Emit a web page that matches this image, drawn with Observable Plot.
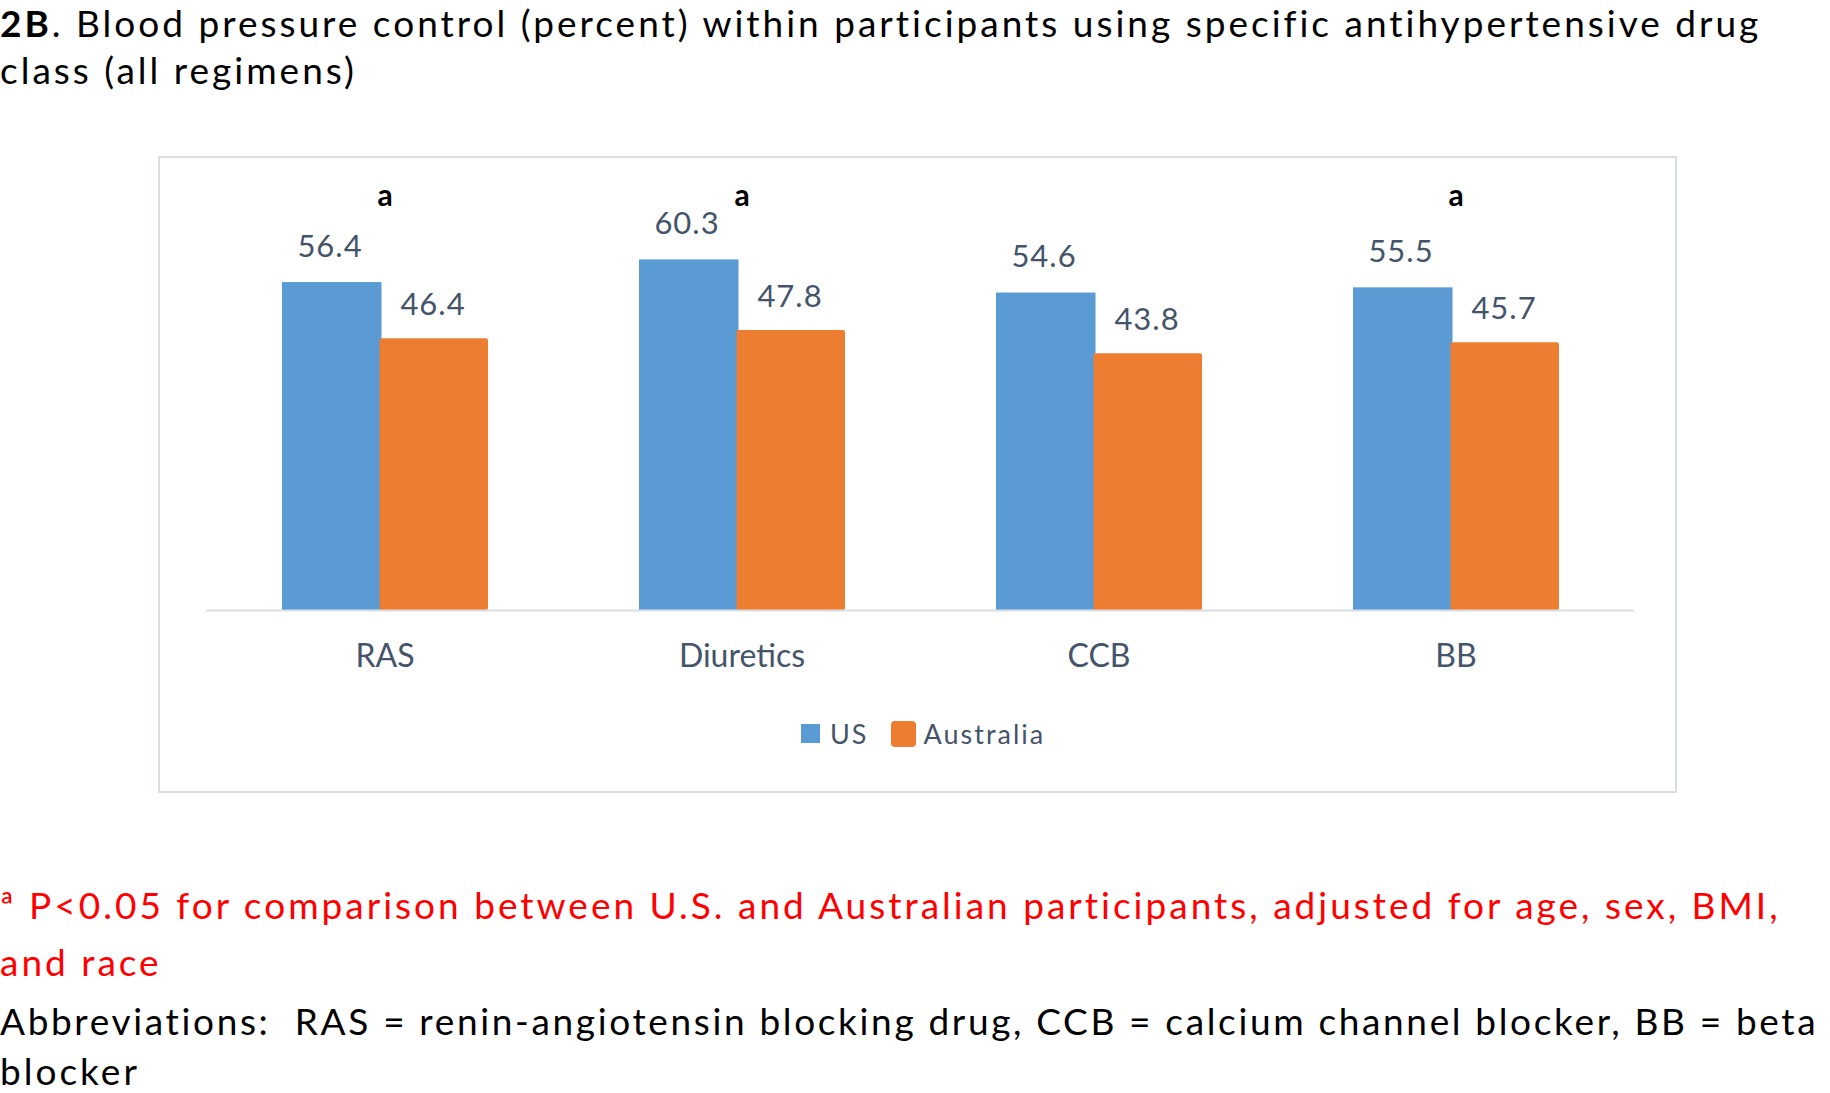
<!DOCTYPE html>
<html>
<head>
<meta charset="utf-8">
<script src="https://cdn.jsdelivr.net/npm/d3@7"></script>
<script src="https://cdn.jsdelivr.net/npm/@observablehq/plot@0.6"></script>
<style>
  html, body { margin: 0; padding: 0; background: #fff; }
  body { width: 1830px; height: 1093px; position: relative; overflow: hidden; font-family: Lato, "Open Sans", sans-serif; }
  .txt { position: absolute; left: 0; white-space: pre; font-size: 37px; line-height: 45px; letter-spacing: 3px; color: #000; }
  .red { color: #ff0000; }
  #box { position: absolute; left: 158px; top: 156px; width: 1515px; height: 633px; border: 2px solid #d9dee5; }
  #chart { position: absolute; left: 0; top: 0; }
  #legend { position: absolute; left: 641px; top: 559px; display: flex; align-items: center; font-size: 27px; letter-spacing: 2px; color: #44546a; }
  .sw { display: inline-block; }
</style>
</head>
<body>
<div class="txt" style="top:0px"><b>2B</b>. Blood pressure control (percent) within participants using specific antihypertensive drug</div>
<div class="txt" style="top:46.5px">class (all regimens)</div>
<div id="box">
  <div id="chart"></div>
  <div id="legend"></div>
</div>
<div class="txt red" style="top:881.5px">ª P&lt;0.05 for comparison between U.S. and Australian participants, adjusted for age, sex, BMI,</div>
<div class="txt red" style="top:939.2px">and race</div>
<div class="txt" style="top:998.2px; letter-spacing:2.65px">Abbreviations:  RAS = renin-angiotensin blocking drug, CCB = calcium channel blocker, BB = beta</div>
<div class="txt" style="top:1049px; line-height:44px">blocker</div>
<script>
const categories = ["RAS", "Diuretics", "CCB", "BB"];
const series = ["US", "Australia"];
const usValues = [56.4, 60.3, 54.6, 55.5];
const australiaValues = [46.4, 47.8, 43.8, 45.7];
const significant = ["RAS", "Diuretics", "BB"];
const colors = ["#5B9BD5", "#ED7D31"];

const data = [];
categories.forEach((c, i) => {
  data.push({category: c, series: "US", value: usValues[i]});
  data.push({category: c, series: "Australia", value: australiaValues[i]});
});

const chart = Plot.plot({
  width: 1515,
  height: 520,
  marginLeft: 44,
  marginRight: 40,
  marginTop: 45,
  marginBottom: 68,
  style: {fontFamily: "Lato, 'Open Sans', sans-serif", color: "#44546a", background: "transparent"},
  fx: {domain: categories, padding: 0, label: null},
  x: {domain: series, paddingInner: 0, paddingOuter: 0.724, axis: null},
  y: {domain: [0, 70], axis: null},
  color: {domain: series, range: colors},
  marks: [
    Plot.barY(data.filter(d => d.series === "US"), {fx: "category", x: "series", y: "value", fill: "series", insetRight: 3.5}),
    Plot.barY(data.filter(d => d.series === "Australia"), {fx: "category", x: "series", y: "value", fill: "series",
      insetLeft: -5.5, insetTop: -2, rx: 2}),
    Plot.ruleY([0], {stroke: "#d9dee5", strokeWidth: 2}),
    Plot.text(data, {fx: "category", x: "series", y: "value", text: d => d.value.toFixed(1),
      lineAnchor: "bottom", dy: -26, dx: -4, fill: "#44546a", fontSize: 31}),
    Plot.text(significant, {fx: d => d, text: () => "a", frameAnchor: "top", lineAnchor: "bottom",
      dy: 2, fontWeight: "bold", fontSize: 30, fill: "#000"}),
    Plot.axisFx({anchor: "bottom", tickSize: 0, tickPadding: 34, fontSize: 32, label: null})
  ]
});
chart.querySelectorAll("text").forEach(t => { if (/^\d/.test(t.textContent)) t.setAttribute("letter-spacing", "1"); });
document.getElementById("chart").appendChild(chart);

// legend built from the series arrays
const legend = document.getElementById("legend");
series.forEach((s, i) => {
  const sw = document.createElement("span");
  sw.className = "sw";
  const big = i === 1;
  sw.style.width = big ? "25px" : "19px";
  sw.style.height = big ? "26px" : "19px";
  sw.style.borderRadius = big ? "4px" : "0";
  sw.style.background = colors[i];
  sw.style.marginRight = big ? "8px" : "10px";
  const t = document.createElement("span");
  t.textContent = s;
  t.style.marginRight = "22px";
  legend.appendChild(sw);
  legend.appendChild(t);
});
</script>
</body>
</html>
